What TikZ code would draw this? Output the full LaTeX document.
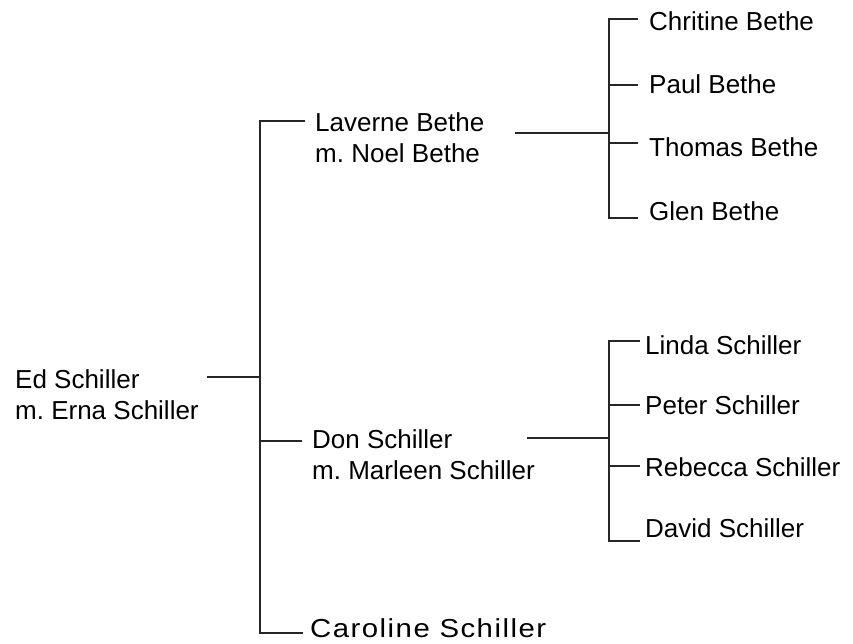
\documentclass[tikz,border=0pt]{standalone}
\usepackage{fontspec}
\setmainfont{Liberation Sans}
\usetikzlibrary{calc}
\frenchspacing
\tikzset{
  person/.style={anchor=base west, inner sep=0pt, font=\fontsize{26}{31}\selectfont},
  link/.style={line width=1.6pt, line cap=butt, draw=black!85},
}
\begin{document}
\begin{tikzpicture}[x=1pt, y=-1pt]
\useasboundingbox[fill=white] (0,0) rectangle (853,644);

% generation 1
\node[person] (ed)   at (15,388) {Ed Schiller};
\node[person] (edsp) at (15,419) {m. Erna Schiller};

% generation 2
\node[person] (lav)   at (315,132) {Laverne Bethe};
\node[person] (lavsp) at (315,163) {m. Noel Bethe};
\node[person] (don)   at (312,448) {Don Schiller};
\node[person] (donsp) at (312,479) {m. Marleen Schiller};
\node[person, xscale=1.13] (car) at (310,637) {\addfontfeature{LetterSpace=5}Caroline Schiller};

% generation 3: Bethe
\node[person] (k1) at (649,31)  {Chritine Bethe};
\node[person] (k2) at (649,94)  {Paul Bethe};
\node[person] (k3) at (649,157) {Thomas Bethe};
\node[person] (k4) at (649,221) {Glen Bethe};

% generation 3: Schiller
\node[person] (s1) at (645,354) {Linda Schiller};
\node[person] (s2) at (645,414) {Peter Schiller};
\node[person] (s3) at (645,476) {Rebecca Schiller};
\node[person] (s4) at (645,537) {David Schiller};

% junction points
\coordinate (edR)    at ($(ed.base west)+(192,-11)$);
\coordinate (trunk)  at (260,0);
\coordinate (lavTip) at ($(lav.base west)+(-10,-11)$);
\coordinate (donTip) at ($(don.base west)+(-10,-7)$);
\coordinate (carTip) at ($(car.base west)+(-7,-4)$);
\coordinate (bethe)  at (609,0);
\coordinate (schil)  at (609,0);
\coordinate (lavR)   at ($(lav.base west)+(200,1)$);
\coordinate (donR)   at ($(don.base west)+(215,-10)$);

% Ed's children
\draw[link] (edR) -- (edR -| trunk);
\draw[link] (lavTip) -- (lavTip -| trunk) -- (carTip -| trunk) -- (carTip);
\draw[link] (donTip -| trunk) -- (donTip);

% Laverne's children
\draw[link] (lavR) -- (lavR -| bethe);
\coordinate (t1) at ($(k1.base west)+(-11,-12)$);
\coordinate (t2) at ($(k2.base west)+(-11,-9)$);
\coordinate (t3) at ($(k3.base west)+(-11,-14)$);
\coordinate (t4) at ($(k4.base west)+(-11,-3)$);
\draw[link] (t1) -- (t1 -| bethe) -- (t4 -| bethe) -- (t4);
\draw[link] (t2 -| bethe) -- (t2);
\draw[link] (t3 -| bethe) -- (t3);

% Don's children
\draw[link] (donR) -- (donR -| schil);
\coordinate (u1) at ($(s1.base west)+(-5,-13)$);
\coordinate (u2) at ($(s2.base west)+(-5,-9)$);
\coordinate (u3) at ($(s3.base west)+(-5,-10)$);
\coordinate (u4) at ($(s4.base west)+(-5,4)$);
\draw[link] (u1) -- (u1 -| schil) -- (u4 -| schil) -- (u4);
\draw[link] (u2 -| schil) -- (u2);
\draw[link] (u3 -| schil) -- (u3);
\end{tikzpicture}
\end{document}
